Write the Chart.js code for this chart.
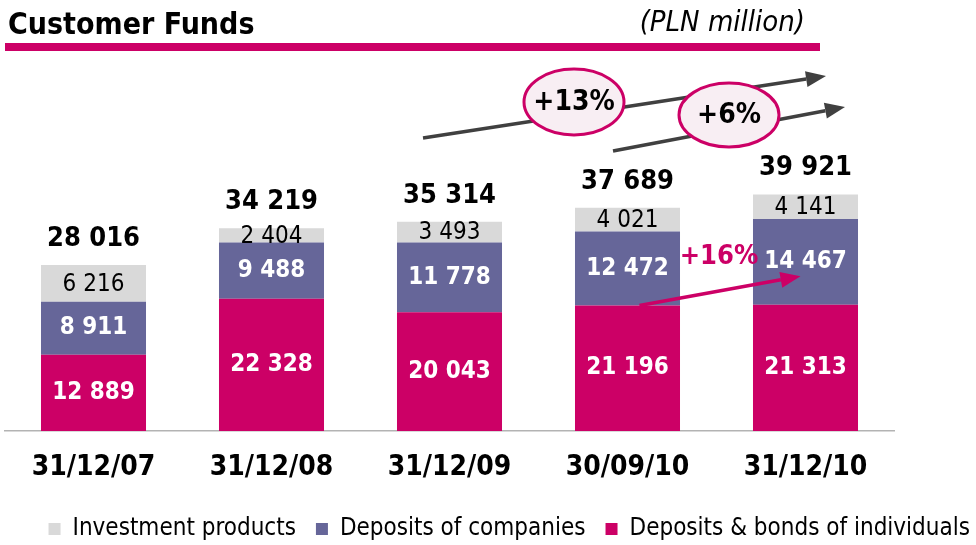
<!DOCTYPE html>
<html lang="en">
<head>
  <meta charset="UTF-8">
  <title>Customer Funds</title>
  <script src="https://cdn.jsdelivr.net/npm/chart.js"></script>
  <style>
    html, body { margin: 0; padding: 0; background: #fff; }
    #wrap { width: 976px; height: 545px; }
  </style>
</head>
<body>
  <div id="wrap"><canvas id="fundsChart" width="976" height="545"></canvas></div>

  <script>
    const periods = ['31/12/07', '31/12/08', '31/12/09', '30/09/10', '31/12/10'];
    const individuals = [12889, 22328, 20043, 21196, 21313];
    const companies = [8911, 9488, 11778, 12472, 14467];
    const investment = [6216, 2404, 3493, 4021, 4141];
    const totals = [28016, 34219, 35314, 37689, 39921];

    const PINK = '#cc0066';
    const PURPLE = '#666699';
    const GREY = '#d9d9d9';
    const FONT = '"DejaVu Sans Condensed", "DejaVu Sans", sans-serif';

    function fmt(v) {
      return String(v).replace(/\B(?=(\d{3})+(?!\d))/g, ' ');
    }

    function arrow(ctx, x1, y1, x2, y2, color, width, headLen, headW) {
      const a = Math.atan2(y2 - y1, x2 - x1);
      const bx = x2 - Math.cos(a) * headLen, by = y2 - Math.sin(a) * headLen;
      ctx.save();
      ctx.strokeStyle = color;
      ctx.fillStyle = color;
      ctx.lineWidth = width;
      ctx.beginPath();
      ctx.moveTo(x1, y1);
      ctx.lineTo(bx, by);
      ctx.stroke();
      ctx.beginPath();
      ctx.moveTo(x2, y2);
      ctx.lineTo(bx + Math.sin(a) * headW / 2, by - Math.cos(a) * headW / 2);
      ctx.lineTo(bx - Math.sin(a) * headW / 2, by + Math.cos(a) * headW / 2);
      ctx.closePath();
      ctx.fill();
      ctx.restore();
    }

    function bubble(ctx, cx, cy, rx, ry, text) {
      ctx.save();
      ctx.beginPath();
      ctx.ellipse(cx, cy, rx, ry, 0, 0, Math.PI * 2);
      ctx.fillStyle = '#f8eef3';
      ctx.fill();
      ctx.lineWidth = 3;
      ctx.strokeStyle = PINK;
      ctx.stroke();
      ctx.fillStyle = '#000';
      ctx.font = 'bold 28px ' + FONT;
      ctx.textAlign = 'center';
      ctx.textBaseline = 'middle';
      ctx.fillText(text, cx, cy + 1);
      ctx.restore();
    }

    const decorations = {
      id: 'decorations',
      afterDatasetsDraw(chart) {
        const ctx = chart.ctx;
        const y = chart.scales.y;

        // title block
        ctx.save();
        ctx.fillStyle = '#000';
        ctx.textBaseline = 'alphabetic';
        ctx.font = 'bold 30px ' + FONT;
        ctx.textAlign = 'left';
        ctx.fillText('Customer Funds', 8, 34);
        ctx.font = 'italic 29px ' + FONT;
        ctx.textAlign = 'right';
        ctx.fillText('(PLN million)', 805, 31);
        ctx.fillStyle = PINK;
        ctx.fillRect(5, 43, 815, 8);
        ctx.restore();

        // segment and total labels
        const mInd = chart.getDatasetMeta(0).data;
        const mCom = chart.getDatasetMeta(1).data;
        const mInv = chart.getDatasetMeta(2).data;
        ctx.save();
        ctx.textAlign = 'center';
        ctx.textBaseline = 'middle';
        periods.forEach((p, i) => {
          ctx.fillStyle = '#fff';
          ctx.font = 'bold 24px ' + FONT;
          ctx.fillText(fmt(individuals[i]), mInd[i].x, (mInd[i].y + mInd[i].base) / 2);
          ctx.fillText(fmt(companies[i]), mCom[i].x, (mCom[i].y + mCom[i].base) / 2);
          ctx.fillStyle = '#000';
          ctx.font = '24px ' + FONT;
          ctx.fillText(fmt(investment[i]), mInv[i].x, (mInv[i].y + mInv[i].base) / 2 + 1);
          ctx.font = 'bold 27px ' + FONT;
          ctx.fillText(fmt(totals[i]), mInv[i].x, y.getPixelForValue(totals[i]) - 26);
        });
        ctx.restore();

        // growth arrows
        arrow(ctx, 423, 138, 826, 76, '#404040', 3.5, 20, 16);
        arrow(ctx, 613, 151, 845, 107, '#404040', 3.5, 20, 16);
        bubble(ctx, 574, 102, 50, 33, '+13%');
        bubble(ctx, 729, 115, 50, 32, '+6%');

        // +16% companies arrow
        const x4 = mInd[3].x, x5 = mInd[4].x;
        arrow(ctx, x4 + 12, y.getPixelForValue(individuals[3]), x5 - 5, y.getPixelForValue(individuals[4] + 4800), PINK, 3.5, 20, 16);
        ctx.save();
        ctx.fillStyle = PINK;
        ctx.font = 'bold 27px ' + FONT;
        ctx.textAlign = 'center';
        ctx.textBaseline = 'middle';
        ctx.fillText('+16%', 719, 257);
        ctx.restore();
      }
    };

    const ctx = document.getElementById('fundsChart').getContext('2d');
    new Chart(ctx, {
      type: 'bar',
      data: {
        labels: periods,
        datasets: [
          { label: 'Deposits & bonds of individuals', data: individuals, backgroundColor: PINK, yAxisID: 'y' },
          { label: 'Deposits of companies', data: companies, backgroundColor: PURPLE, yAxisID: 'y' },
          { label: 'Investment products', data: investment, backgroundColor: GREY, yAxisID: 'y' }
        ]
      },
      options: {
        responsive: false,
        animation: false,
        events: [],
        layout: { padding: { left: 4.5, right: -14, top: 75.5, bottom: -6 } },
        datasets: { bar: { barPercentage: 0.59, categoryPercentage: 1 } },
        scales: {
          x: {
            stacked: true,
            grid: { display: false, drawTicks: false },
            border: { display: true, color: '#b3b3b3', width: 1.5 },
            ticks: { color: '#000', padding: 20, font: { family: FONT, size: 28, weight: 'bold' } },
            afterFit(s) { s.height = 66; }
          },
          y: {
            stacked: true,
            display: false,
            min: 0,
            max: 60000
          },
          y2: {
            position: 'right',
            display: true,
            grid: { display: false },
            border: { display: false },
            ticks: { display: false },
            afterFit(s) { s.width = 95.5; }
          }
        },
        plugins: {
          legend: {
            position: 'bottom',
            align: 'end',
            reverse: true,
            labels: {
              color: '#000',
              boxWidth: 12,
              boxHeight: 12,
              padding: 20,
              font: { family: FONT, size: 24 }
            }
          },
          tooltip: { enabled: false }
        }
      },
      plugins: [decorations]
    });
  </script>
</body>
</html>
